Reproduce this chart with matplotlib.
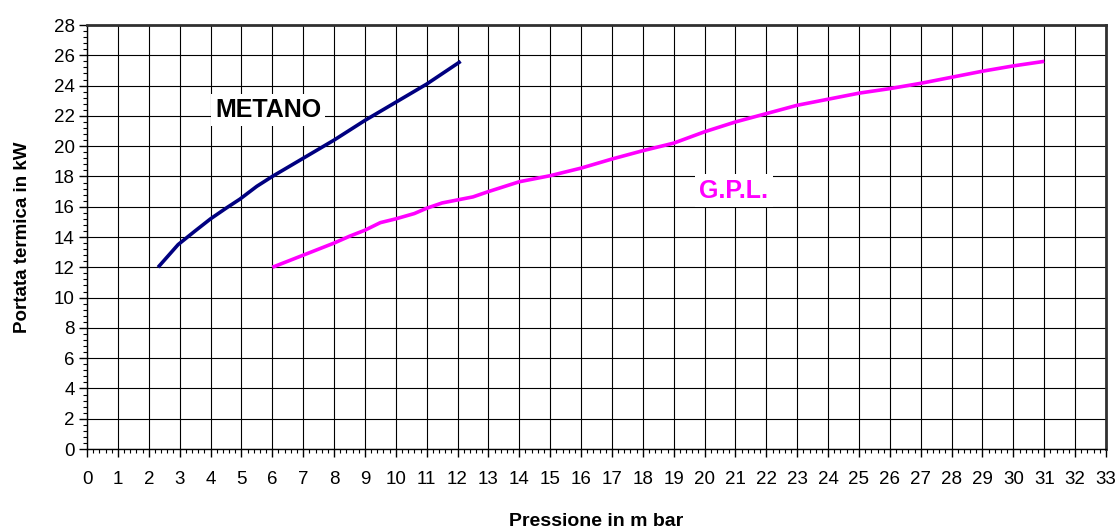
import numpy as np
import matplotlib.pyplot as plt
from matplotlib.ticker import MultipleLocator

plt.rcParams['font.family'] = ['Liberation Sans', 'DejaVu Sans']

# pressione (mbar) / portata termica (kW)
metano_p = [2.3, 2.95, 3.5, 4.0, 4.5, 4.95, 5.5, 6.0, 7.0, 8.0, 9.0, 10.0, 11.0, 12.1]
metano_q = [12.0, 13.5, 14.4, 15.2, 15.9, 16.5, 17.35, 18.0, 19.2, 20.4, 21.7, 22.9, 24.1, 25.6]

gpl_p = [6.0, 7.0, 8.0, 8.5, 9.0, 9.5, 10.0, 10.6, 11.0, 11.5, 12.0, 12.5, 13.0, 14.0, 15.0,
         16.0, 17.0, 18.0, 19.0, 20.0, 21.0, 22.0, 23.0, 24.0, 25.0, 26.0, 27.0, 28.0, 29.0,
         30.0, 31.0]
gpl_q = [12.0, 12.8, 13.6, 14.05, 14.45, 14.95, 15.2, 15.55, 15.9, 16.25, 16.45, 16.65, 17.0,
         17.65, 18.05, 18.55, 19.15, 19.7, 20.2, 20.95, 21.6, 22.15, 22.7, 23.1, 23.5, 23.8,
         24.15, 24.55, 24.95, 25.3, 25.6]

fig = plt.figure(figsize=(11.2, 5.3), dpi=100)
ax = fig.add_axes([0.0777, 0.1528, 0.9098, 0.80])

ax.plot(metano_p, metano_q, color='#000080', lw=2.6, solid_capstyle='butt', zorder=3)
ax.plot(gpl_p, gpl_q, color='#FF00FF', lw=2.6, solid_capstyle='butt', zorder=3)

ax.set_xlim(0, 33)
ax.set_ylim(0, 28)
ax.xaxis.set_major_locator(MultipleLocator(1))
ax.xaxis.set_minor_locator(MultipleLocator(0.2))
ax.yaxis.set_major_locator(MultipleLocator(2))
ax.yaxis.set_minor_locator(MultipleLocator(0.4))
ax.grid(True, which='major', color='black', lw=0.8)
ax.set_axisbelow(True)

ax.tick_params(which='major', direction='out', length=6, width=1, labelsize=13.5, pad=10)
ax.tick_params(axis='y', which='major', pad=3)
ax.tick_params(which='minor', direction='out', length=3, width=0.8)

for s in ['left', 'bottom']:
    ax.spines[s].set_linewidth(1)
for s in ['top', 'right']:
    ax.spines[s].set_linewidth(2)
    ax.spines[s].set_color('#303030')

ax.set_xlabel('Pressione in m bar', fontsize=14, fontweight='bold', labelpad=18)
ax.set_ylabel('Portata termica in kW', fontsize=13.5, fontweight='bold', labelpad=16)

ax.text(5.86, 22.4, 'METANO', fontsize=18, fontweight='bold', color='black',
        ha='center', va='center', zorder=4,
        bbox=dict(facecolor='white', edgecolor='none', pad=3))
ax.text(20.95, 17.06, 'G.P.L.', fontsize=18, fontweight='bold', color='#FF00FF',
        ha='center', va='center', zorder=4,
        bbox=dict(facecolor='white', edgecolor='none', pad=3))

fig.savefig('out.png', dpi=100)
